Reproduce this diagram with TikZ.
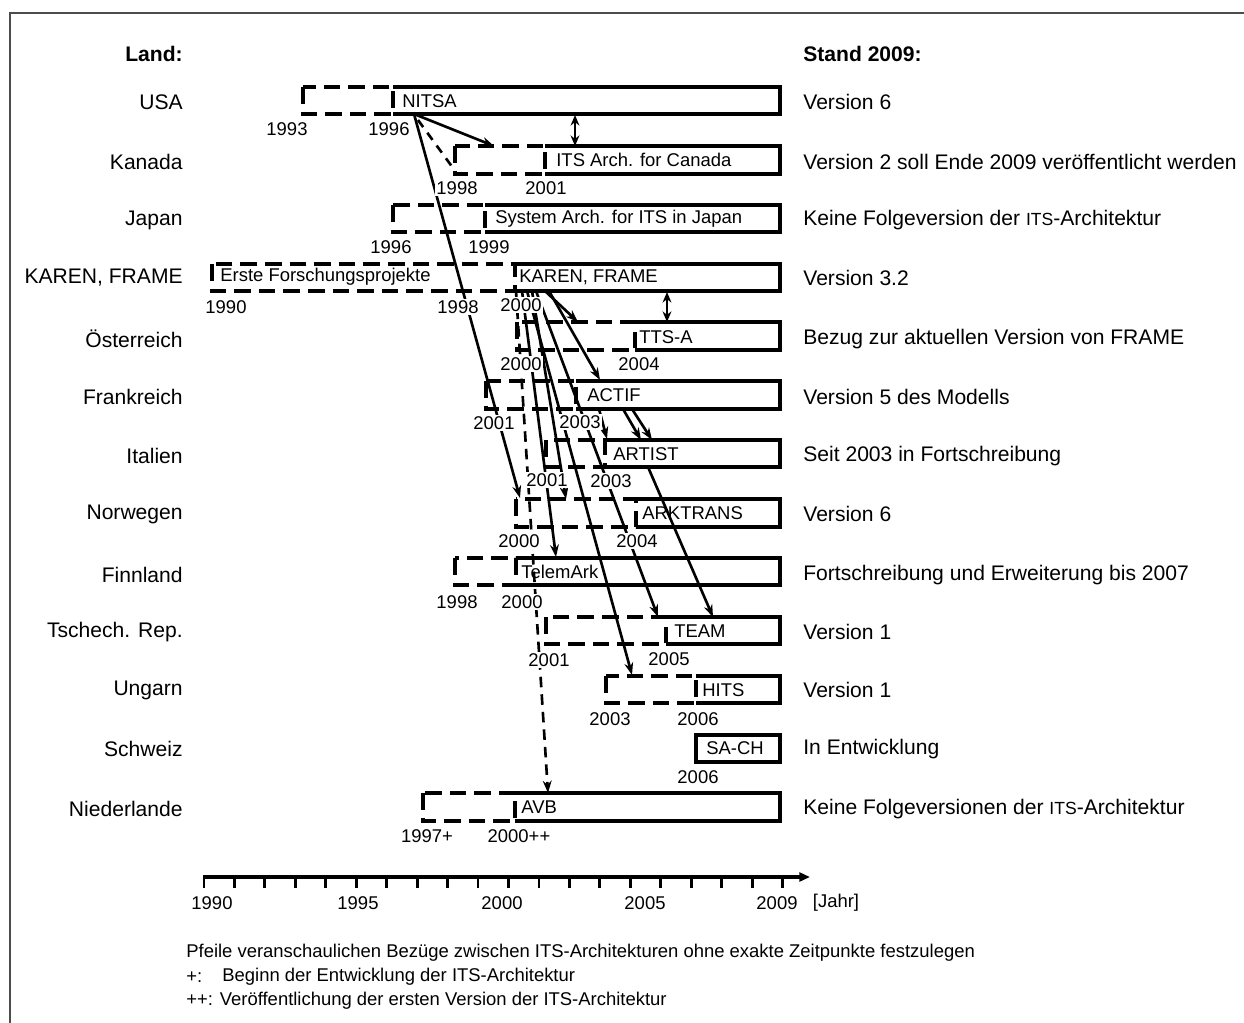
\documentclass[tikz,border=0pt]{standalone}
\usepackage{fontspec}
\setmainfont{Liberation Sans}
\usetikzlibrary{arrows.meta}
\newcommand\tlbox[4]{%
  \draw[dbx] (#1,#3) rectangle (#2,#4);
  \draw[bx] (#2,#3) -- (780,#3) -- (780,#4) -- (#2,#4);}
\begin{document}
\begin{tikzpicture}[x=0.02cm,y=-0.02cm,
  bx/.style={line width=1.8pt},
  dbx/.style={line width=1.8pt,dash pattern=on 9.5pt off 4.5pt},
  arr/.style={line width=1.5pt,-{Stealth[length=7pt,width=5pt]}},
  darr/.style={line width=1.5pt,dash pattern=on 6pt off 4pt,-{Stealth[length=7pt,width=5pt]}},
  dl/.style={line width=1.5pt,dash pattern=on 5pt off 4pt},
  dbl/.style={line width=1.5pt,{Stealth[length=6pt,width=5pt]}-{Stealth[length=6pt,width=5pt]}},
  cl/.style={font=\fontsize{12}{14}\selectfont,inner sep=0pt,anchor=east},
  rl/.style={font=\fontsize{12}{14}\selectfont,inner sep=0pt,anchor=west},
  hd/.style={font=\bfseries\fontsize{12}{14}\selectfont,inner sep=0pt},
  yr/.style={font=\fontsize{10.5}{12}\selectfont,fill=white,inner sep=1pt},
  bt/.style={font=\fontsize{10.5}{12}\selectfont,inner sep=0pt,anchor=west},
  ft/.style={font=\fontsize{10.5}{12}\selectfont,inner sep=0pt,anchor=west}]
\useasboundingbox (0,0) rectangle (1244,1023);
\fill[white] (0,0) rectangle (1244,1023);
\draw[gray!60!black,line width=1pt] (10,1023) -- (10,13) -- (1244,13);

% ---- connectors (drawn first) ----
\coordinate (nitsa) at (414,114);
\draw[arr] (nitsa) -- (494,146);
\draw[dl] (418,120) -- (453,168);
\draw[arr] (nitsa) -- (520,498);
\draw[dbl] (575,115) -- (575,146);
\draw[dbl] (667,292) -- (667,322);
\draw[arr] (545,291) -- (578,322);
\draw[arr] (549,291) -- (600,380);
\draw[arr] (532,291) -- (566,499);
\draw[arr] (522,291) -- (556,557);
\draw[arr] (527,291) -- (632,675);
\draw[arr] (536,291) -- (658,617);
\draw[darr] (516,291) -- (548,793);
\draw[arr] (599,409) -- (607,439);
\draw[arr] (623,409) -- (641,440);
\draw[arr] (632,409) -- (652,440);
\draw[arr] (648,467) -- (713,617);

% ---- boxes ----
\tlbox{303}{393}{87}{114}
\tlbox{455}{545}{146}{174}
\tlbox{393}{485}{205}{232}
\tlbox{212}{515}{264}{291}
\tlbox{517}{635}{322}{350}
\tlbox{486}{576}{381}{409}
\tlbox{546}{605}{440}{467}
\tlbox{516}{636}{499}{527}
\tlbox{455}{516}{558}{585}
\tlbox{546}{666}{617}{644}
\tlbox{606}{696}{676}{703}
\draw[bx] (696,735) rectangle (780,762);
\tlbox{423}{515}{793}{821}

% ---- box texts ----
\node[bt] (tnitsa) at (402,101) {NITSA};
\node[bt] (tcan) at (556,160) {ITS Arch. for Canada};
\node[bt] (tjap) at (495,219) {System Arch. for ITS in Japan};
\node[bt] (terste) at (220,277) {Erste Forschungsprojekte};
\node[bt] (tkaren) at (519,277) {KAREN, FRAME};
\node[bt] (ttts) at (639,337) {TTS-A};
\node[bt] (tactif) at (587,395) {ACTIF};
\node[bt] (tartist) at (613,454) {ARTIST};
\node[bt] (tark) at (642,513) {ARKTRANS};
\node[bt] (ttel) at (521,572) {TelemArk};
\node[bt] (tteam) at (674,631) {TEAM};
\node[bt] (thits) at (702,690) {HITS};
\node[bt] (tsach) at (706,748) {SA-CH};
\node[bt] (tavb) at (521,807) {AVB};

% ---- years ----
\node[yr] (y1) at (287,129) {1993};
\node[yr] (y2) at (389,129) {1996};
\node[yr] (y3) at (457,188) {1998};
\node[yr] (y4) at (546,188) {2001};
\node[yr] (y5) at (391,247) {1996};
\node[yr] (y6) at (489,247) {1999};
\node[yr] (y7) at (226,307) {1990};
\node[yr] (y8) at (458,307) {1998};
\node[yr] (y9) at (521,305) {2000};
\node[yr] (y10) at (521,364) {2000};
\node[yr] (y11) at (639,364) {2004};
\node[yr] (y12) at (494,423) {2001};
\node[yr] (y13) at (580,422) {2003};
\node[yr] (y14) at (547,480) {2001};
\node[yr] (y15) at (611,481) {2003};
\node[yr] (y16) at (519,541) {2000};
\node[yr] (y17) at (637,541) {2004};
\node[yr] (y18) at (457,602) {1998};
\node[yr] (y19) at (522,602) {2000};
\node[yr] (y20) at (549,660) {2001};
\node[yr] (y21) at (669,659) {2005};
\node[yr] (y22) at (610,719) {2003};
\node[yr] (y23) at (698,719) {2006};
\node[yr] (y24) at (698,777) {2006};
\node[yr] (y25) at (427,836) {1997+};
\node[yr] (y26) at (519,836) {2000++};

% ---- left column ----
\node[hd,anchor=east] (land) at (183,54) {Land:};
\node[cl] (c1) at (183,102) {USA};
\node[cl] (c2) at (183,162) {Kanada};
\node[cl] (c3) at (183,220) {Japan};
\node[cl] (c4) at (183,278) {KAREN, FRAME};
\node[cl] (c5) at (183,339) {Österreich};
\node[cl] (c6) at (183,397) {Frankreich};
\node[cl] (c7) at (183,456) {Italien};
\node[cl] (c8) at (183,514) {Norwegen};
\node[cl] (c9) at (183,575) {Finnland};
\node[cl] (c10) at (183,632) {Tschech. Rep.};
\node[cl] (c11) at (183,690) {Ungarn};
\node[cl] (c12) at (183,749) {Schweiz};
\node[cl] (c13) at (183,809) {Niederlande};

% ---- right column ----
\node[hd,anchor=west] (stand) at (803,54) {Stand 2009:};
\node[rl] (r1) at (803,102) {Version 6};
\node[rl] (r2) at (803,162) {Version 2 soll Ende 2009 veröffentlicht werden};
\node[rl] (r3) at (803,220) {Keine Folgeversion der {\fontsize{10}{12}\selectfont ITS}-Architektur};
\node[rl] (r4) at (803,278) {Version 3.2};
\node[rl] (r5) at (803,339) {Bezug zur aktuellen Version von FRAME};
\node[rl] (r6) at (803,397) {Version 5 des Modells};
\node[rl] (r7) at (803,456) {Seit 2003 in Fortschreibung};
\node[rl] (r8) at (803,514) {Version 6};
\node[rl] (r9) at (803,575) {Fortschreibung und Erweiterung bis 2007};
\node[rl] (r10) at (803,632) {Version 1};
\node[rl] (r11) at (803,690) {Version 1};
\node[rl] (r12) at (803,749) {In Entwicklung};
\node[rl] (r13) at (803,809) {Keine Folgeversionen der {\fontsize{10}{12}\selectfont ITS}-Architektur};

% ---- axis ----
\coordinate (ax0) at (203,877);
\coordinate (ax1) at (810,877);
\draw[line width=2.2pt,-{Triangle[length=6pt,width=5pt]}] (ax0) -- (ax1);
\foreach \k in {0,...,19} \draw[line width=1.6pt] ({204+\k*30.45},877) -- ({204+\k*30.45},888);
\node[yr] (a1) at (212,903) {1990};
\node[yr] (a2) at (358,903) {1995};
\node[yr] (a3) at (502,903) {2000};
\node[yr] (a4) at (645,903) {2005};
\node[yr] (a5) at (777,903) {2009};
\node[yr] (a6) at (836,903) {[Jahr]};

% ---- footnotes ----
\node[ft] (f1) at (186,953) {Pfeile veranschaulichen Bezüge zwischen ITS-Architekturen ohne exakte Zeitpunkte festzulegen};
\node[ft] (f2a) at (186,977) {+:};
\node[ft] (f2) at (222,977) {Beginn der Entwicklung der ITS-Architektur};
\node[ft] (f3) at (186,1001) {++: Veröffentlichung der ersten Version der ITS-Architektur};
\end{tikzpicture}
\end{document}
